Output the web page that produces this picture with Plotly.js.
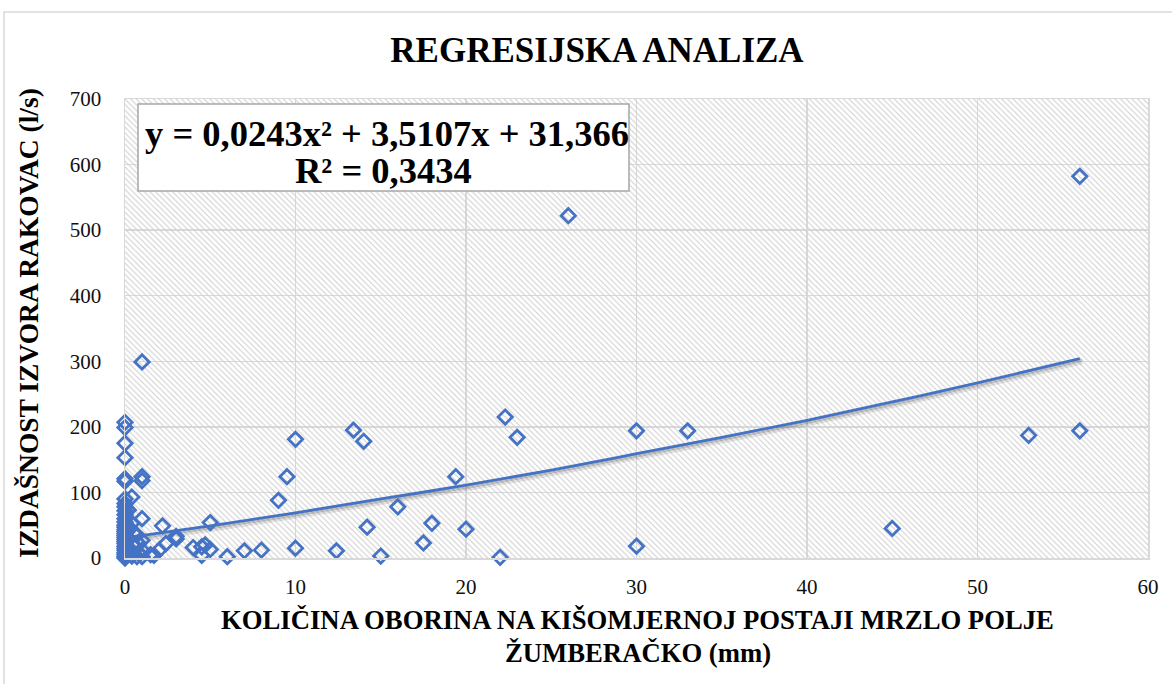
<!DOCTYPE html>
<html>
<head>
<meta charset="utf-8">
<script src="https://cdn.plot.ly/plotly-3.0.1.min.js"></script>
<style>html,body{margin:0;padding:0;background:#fff;}#chart{width:1172px;height:684px;}</style>
</head>
<body>
<div id="chart"></div>
<script>
// Precipitation (mm) at Mrzlo Polje Žumberačko
const precipX = [
  0,0,0,0,0,0,0,0,0,0,0,0,0,0,0,0,0,0,0,0,0,0,0,0,0,0,0,0,0,0,
  0.2,0.2,0.3,0.3,0.4,0.4,0.4,0.5,0.5,0.7,0.7,0.8,0.8,
  1,1,1,1,1,1,1,
  1.5,1.7,2,2.2,2.4,3,3,
  4,4.5,4.5,4.7,5,5,6,7,8,9,9.5,10,10,12.4,13.4,14,14.2,15,16,17.5,18,19.4,20,22,22.3,23,26,30,30,33,45,53,56,56
];
// Discharge of spring Rakovac (l/s)
const dischargeY = [
  0,2,5,8,12,15,18,22,25,28,31,34,37,40,43,47,50,55,60,66,72,78,83,90,117,121,153,175,199,207,
  73,30,45,10,93,53,3,20,38,2,35,22,8,
  299,124,118,60,27,2,12,
  5,4,12,49,22,33,29,
  16,17,4,20,54,13,2,11,12,88,124,181,15,11,195,178,47,3,78,23,53,124,44,1,215,184,522,194,18,194,45,187,582,194
];
// Polynomial trendline
const trendX = [0,5,10,15,20,25,30,35,40,45,50,56];
const trendY = [31,49,69,90,111,134,159,184,210,238,267,304];

const chartTitle = 'REGRESIJSKA ANALIZA';
const xTitleLines = ['KOLIČINA OBORINA NA KIŠOMJERNOJ POSTAJI MRZLO POLJE', 'ŽUMBERAČKO (mm)'];
const yTitle = 'IZDAŠNOST IZVORA RAKOVAC (l/s)';
const equationLines = ['y = 0,0243x² + 3,5107x + 31,366', 'R² = 0,3434'];
const xRange = [0, 60];
const yRange = [0, 700];

const blue = '#4472C4';
const serif = 'Liberation Serif';

const hatch = {
  x: [xRange[0], xRange[1], xRange[1], xRange[0], xRange[0]],
  y: [yRange[0], yRange[0], yRange[1], yRange[1], yRange[0]],
  type: 'scatter', mode: 'none', fill: 'toself',
  fillcolor: 'rgba(0,0,0,0)',
  fillpattern: {shape: '\\', fgcolor: '#cfcfcf', bgcolor: 'rgba(0,0,0,0)', size: 4, solidity: 0.28},
  hoverinfo: 'skip'
};
const shadow1 = {
  x: trendX.map(v => v + 0.15), y: trendY.map(v => v - 4),
  type: 'scatter', mode: 'lines', line: {color: 'rgba(0,0,0,0.10)', width: 6, shape: 'spline'},
  hoverinfo: 'skip'
};
const shadow2 = {
  x: trendX.map(v => v + 0.1), y: trendY.map(v => v - 3),
  type: 'scatter', mode: 'lines', line: {color: 'rgba(0,0,0,0.14)', width: 3, shape: 'spline'},
  hoverinfo: 'skip'
};
const trend = {
  x: trendX, y: trendY, type: 'scatter', mode: 'lines',
  line: {color: blue, width: 2.8, shape: 'spline'}, hoverinfo: 'skip'
};
const pts = {
  x: precipX, y: dischargeY, type: 'scatter', mode: 'markers', cliponaxis: false,
  marker: {symbol: 'diamond-open', size: 11, color: blue, line: {color: blue, width: 2.8}}
};

const W = 1172, H = 684, mL = 125, mR = 24, mT = 99, mB = 126;
const pw = W - mL - mR, ph = H - mT - mB;
const px2x = p => (p - mL) / pw;
const py2y = p => (H - mB - p) / ph;

const axisCommon = {
  gridcolor: '#d9d9d9', gridwidth: 1.5, zeroline: false, showline: true, mirror: true,
  linecolor: '#d9d9d9', linewidth: 1.5, ticks: '', fixedrange: true,
  tickfont: {family: serif, size: 21, color: '#111111'}
};

const layout = {
  width: W, height: H,
  font: {family: serif},
  margin: {l: mL, r: mR, t: mT, b: mB},
  paper_bgcolor: '#fff', plot_bgcolor: '#fff', showlegend: false,
  title: {text: chartTitle, font: {family: serif, size: 35, color: '#000', weight: 'bold'},
          x: 597 / W, xanchor: 'center', y: 1 - 50 / H, yanchor: 'middle'},
  xaxis: Object.assign({}, axisCommon, {range: xRange, dtick: 10, tick0: 0, ticklabelstandoff: 9}),
  yaxis: Object.assign({}, axisCommon, {range: yRange, dtick: 100, tick0: 0, ticklabelstandoff: 18}),
  shapes: [
    {type: 'rect', xref: 'paper', yref: 'paper', x0: px2x(4), x1: px2x(1185), y0: py2y(700), y1: py2y(12),
     line: {color: '#d9d9d9', width: 1.5}, fillcolor: 'rgba(0,0,0,0)', layer: 'below'},
    {type: 'rect', xref: 'paper', yref: 'paper', x0: px2x(138), x1: px2x(629), y0: py2y(191), y1: py2y(104),
     line: {color: '#a6a6a6', width: 1.5}, fillcolor: '#ffffff', layer: 'above'}
  ],
  annotations: [
    {text: equationLines[0], xref: 'paper', yref: 'paper', x: px2x(387), y: py2y(133),
     xanchor: 'center', yanchor: 'middle', showarrow: false,
     font: {family: serif, size: 36.5, color: '#000', weight: 'bold'}},
    {text: equationLines[1], xref: 'paper', yref: 'paper', x: px2x(383), y: py2y(170),
     xanchor: 'center', yanchor: 'middle', showarrow: false,
     font: {family: serif, size: 36.5, color: '#000', weight: 'bold'}},
    {text: yTitle, xref: 'paper', yref: 'paper', x: px2x(28), y: py2y(323), textangle: -90,
     xanchor: 'center', yanchor: 'middle', showarrow: false,
     font: {family: serif, size: 27.5, color: '#000', weight: 'bold'}},
    {text: xTitleLines[0], xref: 'paper', yref: 'paper', x: px2x(637), y: py2y(620),
     xanchor: 'center', yanchor: 'middle', showarrow: false,
     font: {family: serif, size: 26.7, color: '#000', weight: 'bold'}},
    {text: xTitleLines[1], xref: 'paper', yref: 'paper', x: px2x(638), y: py2y(653),
     xanchor: 'center', yanchor: 'middle', showarrow: false,
     font: {family: serif, size: 26.7, color: '#000', weight: 'bold'}}
  ]
};

Plotly.newPlot('chart', [hatch, shadow1, shadow2, trend, pts], layout, {displayModeBar: false, staticPlot: true});
</script>
</body>
</html>
